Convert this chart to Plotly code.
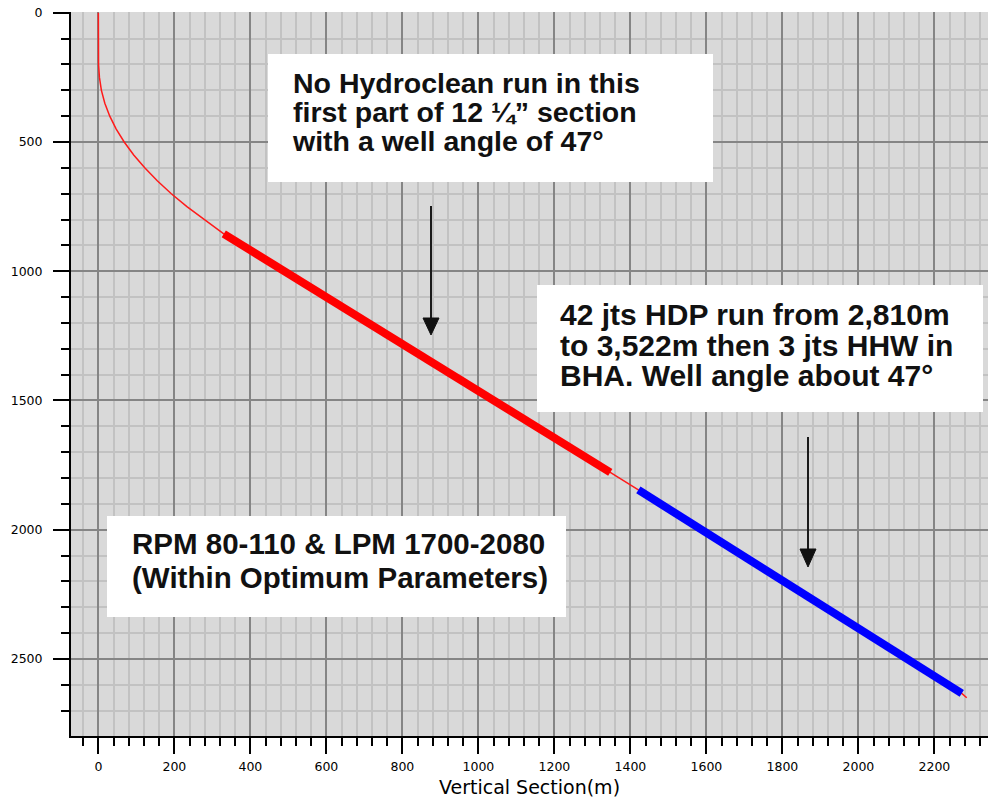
import plotly.graph_objects as go

# Well survey stations: vertical section (m) vs true vertical depth (m)
survey_vs = [0, 0, 0.5, 2.8, 8, 17, 30, 47, 68, 93, 122, 155, 192, 233, 278, 330,
             1347, 1421, 2272, 2285]
survey_tvd = [0, 150, 200, 250, 300, 350, 400, 450, 500, 550, 600, 650, 700, 750, 800, 855,
              1778, 1846, 2633, 2650]

# Interval drilled without Hydroclean
plain_vs = [330, 1347]
plain_tvd = [855, 1778]

# Interval with HDP joints in the string
hdp_vs = [1421, 2272]
hdp_tvd = [1846, 2633]

x_ticks = list(range(0, 2201, 200))
y_ticks = list(range(0, 2501, 500))

box_notes = [
    ["No Hydroclean run in this", "first part of 12 \u00bc\u201d section", "with a well angle of 47\u00b0"],
    ["42 jts HDP run from 2,810m", "to 3,522m then 3 jts HHW in", "BHA. Well angle about 47\u00b0"],
    ["RPM 80-110 & LPM 1700-2080", "(Within Optimum Parameters)"],
]

W, H = 988, 800
ML, MR, MT, MB = 71, 0, 12, 64
PW, PH = W - ML - MR, H - MT - MB


def px(x):
    return (x - ML) / PW


def py(y):
    return (H - MB - y) / PH


fig = go.Figure()

fig.add_trace(go.Scatter(x=survey_vs, y=survey_tvd, mode="lines",
                         line=dict(color="#ff1a1a", width=1.5), hoverinfo="skip"))
fig.add_trace(go.Scatter(x=plain_vs, y=plain_tvd, mode="lines",
                         line=dict(color="#ff0000", width=8), hoverinfo="skip"))
fig.add_trace(go.Scatter(x=hdp_vs, y=hdp_tvd, mode="lines",
                         line=dict(color="#0000ff", width=8), hoverinfo="skip"))

shapes = []
annotations = []

# note boxes: (left, top, right, bottom, text-left, text middle, glyph size, line pitch)
boxes = [
    (268, 54, 713, 182, 290, 111.5, 28.5, 29.2),
    (537, 285, 983, 412, 558, 345.5, 30, 30.7),
    (107, 516, 566, 617, 130, 560, 29.5, 34),
]
for (x0, y0, x1, y1, tx, cy, fs, pitch), lines in zip(boxes, box_notes):
    shapes.append(dict(type="rect", xref="paper", yref="paper",
                       x0=px(x0), x1=px(x1), y0=py(y1), y1=py(y0),
                       fillcolor="white", line=dict(width=0), layer="above"))
    # the base size sets the line pitch (1.3 em); each line is drawn at the glyph size
    body = "<br>".join('<span style="font-size:{}px"><b>{}</b></span>'.format(fs, t) for t in lines)
    annotations.append(dict(xref="paper", yref="paper", x=px(tx), y=py(cy),
                            xanchor="left", yanchor="middle", align="left", showarrow=False,
                            text=body,
                            font=dict(family="Liberation Sans, Arial", size=pitch / 1.3,
                                      color="#111")))

# downward arrows
for ax, top, head, tip in [(431, 206, 318, 335), (808, 437, 549, 567)]:
    shapes.append(dict(type="line", xref="paper", yref="paper",
                       x0=px(ax), x1=px(ax), y0=py(top), y1=py(head + 2),
                       line=dict(color="#1a1a1a", width=2), layer="above"))
    path = "M {} {} L {} {} L {} {} Z".format(px(ax - 8), py(head), px(ax + 8), py(head),
                                               px(ax), py(tip))
    shapes.append(dict(type="path", xref="paper", yref="paper", path=path,
                       fillcolor="#111", line=dict(color="#111", width=1), layer="above"))

tick_font = dict(family="DejaVu Sans", size=12.5, color="black")

fig.update_layout(
    width=W, height=H,
    margin=dict(l=ML, r=MR, t=MT, b=MB, pad=0),
    paper_bgcolor="white", plot_bgcolor="#d9d9d9",
    showlegend=False,
    shapes=shapes, annotations=annotations,
    xaxis=dict(
        range=[-72, 2341], tickvals=x_ticks, ticktext=[str(v) for v in x_ticks],
        showgrid=True, gridcolor="#858585", gridwidth=1.5,
        zeroline=False, showline=True, linecolor="black", linewidth=2,
        ticks="outside", ticklen=16, tickwidth=2, tickcolor="black",
        tickfont=tick_font, ticklabelstandoff=2,
        minor=dict(dtick=40, tick0=0, showgrid=True, gridcolor="#c2c2c2", gridwidth=1.5,
                   ticks="outside", ticklen=8, tickwidth=2, tickcolor="black"),
        title=dict(text="Vertical Section(m)", font=dict(family="DejaVu Sans", size=19, color="black"),
                   standoff=8),
    ),
    yaxis=dict(
        range=[2798, -3], tickvals=y_ticks, ticktext=[str(v) for v in y_ticks],
        showgrid=True, gridcolor="#858585", gridwidth=1.5,
        zeroline=False, showline=True, linecolor="black", linewidth=2,
        ticks="outside", ticklen=16, tickwidth=2, tickcolor="black",
        tickfont=tick_font, ticklabelstandoff=8,
        minor=dict(dtick=100, tick0=0, showgrid=True, gridcolor="#c2c2c2", gridwidth=1.5,
                   ticks="outside", ticklen=8, tickwidth=2, tickcolor="black"),
    ),
)

fig.write_html("out.html")
